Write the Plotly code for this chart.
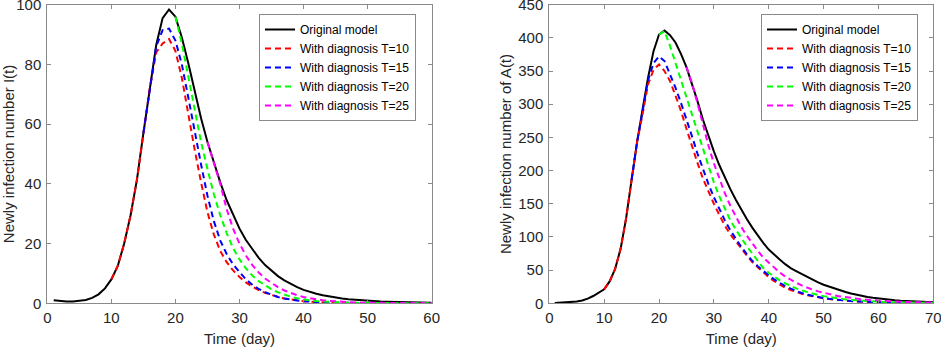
import plotly.graph_objects as go

# ---------------- Left panel: I(t) ----------------
days_I = list(range(1, 61))
orig_I = [1.0, 0.75, 0.6, 0.6, 0.75, 1.1, 1.8, 3.0, 5.0, 8.0, 12.5, 20, 29.5, 41.5, 57, 72, 86.5, 95.5, 98.4, 96,
          89, 80.5, 71, 62, 54, 47, 40.5, 34.5, 29.5, 25, 21.2, 18, 15.2, 12.8, 10.8, 9.1, 7.7, 6.5, 5.4, 4.5,
          3.8, 3.2, 2.7, 2.25, 1.9, 1.6, 1.35, 1.15, 0.95, 0.8, 0.68, 0.58, 0.49, 0.42, 0.36, 0.3, 0.26, 0.22, 0.19, 0.16]
days_I_T10 = list(range(10, 61))
diag_I_T10 = [8.0, 12.5, 20, 29.5, 41.5, 57, 72, 84, 87, 88.5, 84.5, 75.5, 63, 51.5, 40.5, 30.5, 23, 17.5, 13.8, 11.0,
              8.8, 7.0, 5.6, 4.4, 3.5, 2.7, 2.1, 1.6, 1.25, 0.95, 0.72, 0.55, 0.42, 0.32, 0.25, 0.19, 0.15, 0.12, 0.09, 0.07,
              0.06, 0.05, 0.04, 0.03, 0.03, 0.02, 0.02, 0.02, 0.01, 0.01, 0.01]
days_I_T15 = list(range(15, 61))
diag_I_T15 = [57, 72, 86, 91.5, 92, 88, 80, 69, 57.5, 46.5, 36, 27.5, 21, 16.5, 13, 10.3, 8.0, 6.2, 4.8, 3.7,
              2.8, 2.1, 1.6, 1.2, 0.9, 0.68, 0.5, 0.38, 0.29, 0.22, 0.17, 0.13, 0.1, 0.08, 0.06, 0.05, 0.04, 0.03, 0.03, 0.02,
              0.02, 0.02, 0.01, 0.01, 0.01, 0.01]
days_I_T20 = list(range(20, 61))
diag_I_T20 = [96, 87, 76, 64.5, 54, 45, 36.5, 29.5, 23.5, 18.5, 14.7, 11.7, 9.3, 7.4, 5.9, 4.7, 3.7, 2.9, 2.2, 1.7,
              1.3, 1.0, 0.78, 0.6, 0.46, 0.36, 0.28, 0.22, 0.17, 0.13, 0.1, 0.08, 0.06, 0.05, 0.04, 0.03, 0.03, 0.02, 0.02, 0.01,
              0.01]
days_I_T25 = list(range(25, 61))
diag_I_T25 = [54, 47, 40, 31.5, 25, 20, 16, 12.8, 10.3, 8.3, 6.7, 5.4, 4.3, 3.4, 2.7, 2.1, 1.65, 1.3, 1.0, 0.8,
              0.62, 0.48, 0.37, 0.29, 0.22, 0.17, 0.13, 0.1, 0.08, 0.06, 0.05, 0.04, 0.03, 0.02, 0.02, 0.01]

# ---------------- Right panel: A(t) ----------------
days_A = list(range(1, 71))
orig_A = [0.3, 0.6, 1.0, 1.6, 2.6, 4.2, 7, 11, 16, 21, 33, 52, 82, 128, 186, 243, 292, 340, 380, 405,
          411, 404, 393, 376, 356, 332, 305, 277, 252, 229, 208, 189, 172, 156, 141, 127, 114, 102, 91, 81,
          73, 66, 59, 53, 48.5, 44, 39.5, 35.5, 31.5, 28, 25, 22, 19.5, 17, 14.8, 12.8, 11, 9.5, 8.2, 7,
          6, 5.2, 4.5, 3.9, 3.3, 2.8, 2.4, 2, 1.7, 1.4]
days_A_T10 = list(range(10, 71))
diag_A_T10 = [21, 33, 52, 82, 128, 186, 243, 285, 330, 352, 360, 350, 335, 313, 290, 263, 236, 212, 188, 168,
              150, 133, 117, 104, 93, 82, 72, 62, 54, 46.5, 39.5, 33.5, 28, 23.5, 20, 17, 14.5, 12.3, 10.4, 8.8,
              7.5, 6.4, 5.4, 4.6, 3.9, 3.3, 2.8, 2.4, 2.0, 1.7, 1.45, 1.25, 1.05, 0.9, 0.77, 0.66, 0.56, 0.48, 0.41, 0.35,
              0.3]
days_A_T15 = list(range(15, 71))
diag_A_T15 = [186, 243, 289, 336, 362, 372, 365, 345, 325, 302, 278, 252, 226, 202, 180, 160, 142, 125, 110, 97,
              85, 74, 64, 56, 48.5, 42, 36, 30.5, 26, 22, 18.5, 15.5, 13, 11, 9.3, 7.9, 6.7, 5.6, 4.8, 4.0,
              3.4, 2.9, 2.45, 2.05, 1.75, 1.5, 1.28, 1.08, 0.92, 0.78, 0.66, 0.56, 0.48, 0.41, 0.35, 0.3]
days_A_T20 = list(range(20, 71))
diag_A_T20 = [405, 410, 388, 362, 336, 310, 286, 259, 231, 205, 182, 161, 142, 125, 111, 98, 86, 75, 64, 53,
              46, 40, 34.5, 30, 26, 22.5, 19.5, 16.8, 14.5, 12.5, 10.8, 9.3, 8, 6.9, 5.9, 5.1, 4.4, 3.8, 3.2, 2.8,
              2.4, 2.05, 1.75, 1.5, 1.3, 1.1, 0.95, 0.82, 0.7, 0.6, 0.52]
days_A_T25 = list(range(25, 71))
diag_A_T25 = [356, 332, 302, 270, 238, 211, 187, 166, 147, 130, 115, 102, 90, 79, 69, 61, 53, 46.5, 40.5, 35.5,
              31, 27, 23.5, 20.5, 18, 15.7, 13.7, 12, 10.4, 9.1, 7.9, 6.9, 6, 5.2, 4.5, 3.9, 3.4, 3, 2.6, 2.25,
              1.95, 1.7, 1.5, 1.3, 1.12, 0.97]

names = ["Original model", "With diagnosis T=10", "With diagnosis T=15",
         "With diagnosis T=20", "With diagnosis T=25"]
colors = ["#000000", "#ff0000", "#0000ff", "#00ff00", "#ff00ff"]

left_series = [(days_I, orig_I), (days_I_T10, diag_I_T10), (days_I_T15, diag_I_T15),
               (days_I_T20, diag_I_T20), (days_I_T25, diag_I_T25)]
right_series = [(days_A, orig_A), (days_A_T10, diag_A_T10), (days_A_T15, diag_A_T15),
                (days_A_T20, diag_A_T20), (days_A_T25, diag_A_T25)]

fig = go.Figure()
for i, (x, y) in enumerate(left_series):
    fig.add_trace(go.Scatter(x=x, y=y, mode="lines", name=names[i], xaxis="x", yaxis="y",
                             legend="legend",
                             line=dict(color=colors[i], width=2, dash="solid" if i == 0 else "6px,4px")))
for i, (x, y) in enumerate(right_series):
    fig.add_trace(go.Scatter(x=x, y=y, mode="lines", name=names[i], xaxis="x2", yaxis="y2",
                             legend="legend2",
                             line=dict(color=colors[i], width=2, dash="solid" if i == 0 else "6px,4px")))

W, H = 941, 348
font_family = "Liberation Sans, Arial, Helvetica, sans-serif"
tick_font = dict(family=font_family, size=15, color="#262626")
title_font = dict(family=font_family, size=15, color="#262626")

axis_common = dict(showline=True, mirror="ticks", linecolor="#8a8a8a", linewidth=1,
                   ticks="inside", ticklen=4, tickcolor="#8a8a8a", showgrid=False,
                   zeroline=False, tickfont=tick_font, automargin=False,
                   ticklabeloverflow="allow")

def px_x(p):
    return p / W

def px_y(p):
    return 1 - p / H

legend_common = dict(bgcolor="white", bordercolor="#8a8a8a", borderwidth=1,
                     font=dict(family=font_family, size=12, color="#000000"),
                     xanchor="left", yanchor="top", tracegroupgap=0, itemwidth=30)

TOP = 4.7
BOT = 303.3

fig.update_layout(
    width=W, height=H,
    margin=dict(l=0, r=0, t=0, b=0),
    paper_bgcolor="white", plot_bgcolor="white",
    xaxis=dict(domain=[px_x(47.3), px_x(431.7)], range=[0, 60], tickvals=[0, 10, 20, 30, 40, 50, 60],
               ticklabelstandoff=1,
               title=dict(text="Time (day)", font=title_font, standoff=8), anchor="y", **axis_common),
    yaxis=dict(domain=[px_y(BOT), px_y(TOP)], range=[0, 100], tickvals=[0, 20, 40, 60, 80, 100],
               ticklabelstandoff=2,
               title=dict(text="Newly infection number I(t)", font=title_font, standoff=3), anchor="x",
               **axis_common),
    xaxis2=dict(domain=[px_x(549.3), px_x(933.3)], range=[0, 70], tickvals=[0, 10, 20, 30, 40, 50, 60, 70],
                ticklabelstandoff=1,
                title=dict(text="Time (day)", font=title_font, standoff=8), anchor="y2", **axis_common),
    yaxis2=dict(domain=[px_y(BOT), px_y(TOP)], range=[0, 450],
                tickvals=[0, 50, 100, 150, 200, 250, 300, 350, 400, 450],
                ticklabelstandoff=2,
                title=dict(text="Newly infection number of A(t)", font=title_font, standoff=3), anchor="x2",
                **axis_common),
    legend=dict(x=px_x(259), y=px_y(14), **legend_common),
    legend2=dict(x=px_x(761), y=px_y(14), **legend_common),
)

fig.write_html("out.html", config={"displayModeBar": False},
               post_script="document.body.style.margin='0';document.body.style.overflow='hidden';")
